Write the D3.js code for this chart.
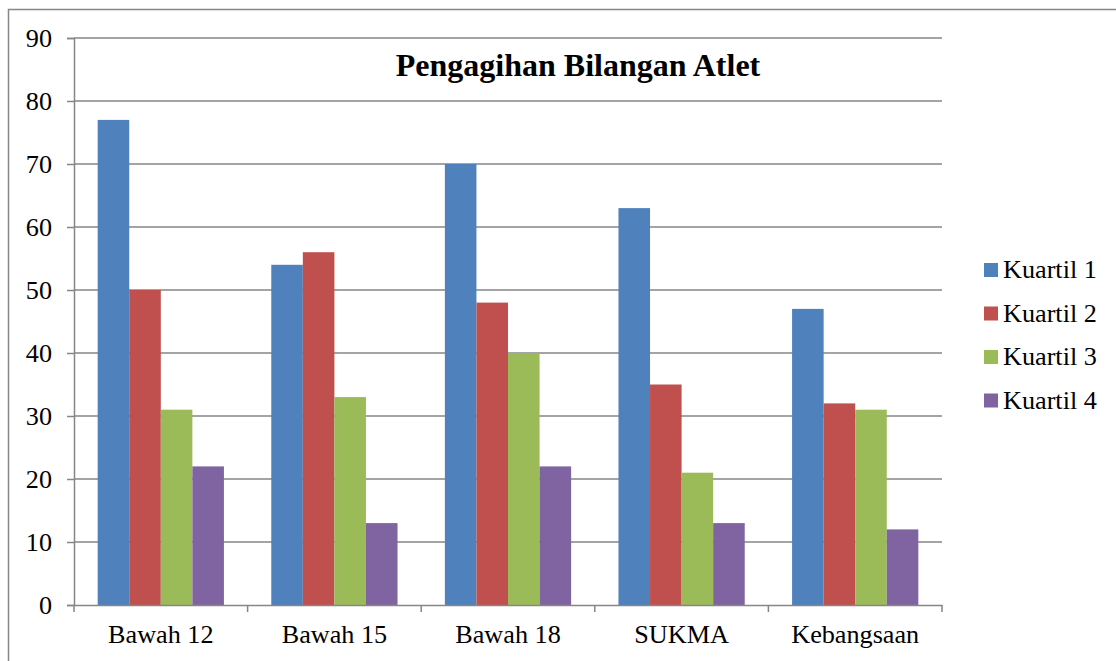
<!DOCTYPE html>
<html>
<head>
<meta charset="utf-8">
<script src="https://cdn.jsdelivr.net/npm/d3@7"></script>
<style>
  body { margin: 0; background: #fff; }
  svg text { font-family: "Liberation Serif", "Times New Roman", serif; fill: #000; }
</style>
</head>
<body>
<svg></svg>
<script>
const categories = ["Bawah 12", "Bawah 15", "Bawah 18", "SUKMA", "Kebangsaan"];
const seriesNames = ["Kuartil 1", "Kuartil 2", "Kuartil 3", "Kuartil 4"];
const kuartil1 = [77, 54, 70, 63, 47];
const kuartil2 = [50, 56, 48, 35, 32];
const kuartil3 = [31, 33, 40, 21, 31];
const kuartil4 = [22, 13, 22, 13, 12];
const yTicks = [0, 10, 20, 30, 40, 50, 60, 70, 80, 90];
const colors = ["#4F81BD", "#C0504D", "#9BBB59", "#8064A2"];

const allSeries = [kuartil1, kuartil2, kuartil3, kuartil4];

let width = 1116;
let height = 661;
let plotLeft = 74, plotRight = 942, plotTop = 38, plotBottom = 605;
let labelSize = "26.2px";

let svg = d3.select("svg").attr("width", width).attr("height", height);

// outer frame
svg.append("rect")
    .attr("x", 8.5).attr("y", 9.5)
    .attr("width", 1120).attr("height", 670)
    .attr("fill", "none").attr("stroke", "#868686").attr("stroke-width", 1.5);

let xScale = d3.scaleBand().domain(categories).range([plotLeft, plotRight]).paddingInner(0).paddingOuter(0);
let xInner = d3.scaleBand().domain(seriesNames)
    .range([0, xScale.bandwidth()])
    .paddingInner(0).paddingOuter(0.75);
let yScale = d3.scaleLinear().domain([0, 90]).range([plotBottom, plotTop]);

// gridlines
svg.append("g")
    .selectAll("line")
    .data(yTicks.slice(1))
    .enter()
    .append("line")
    .attr("x1", plotLeft).attr("x2", plotRight)
    .attr("y1", (d) => yScale(d)).attr("y2", (d) => yScale(d))
    .attr("stroke", "#868686").attr("stroke-width", 1.5);

// bars
const groups = svg.append("g")
    .selectAll("g")
    .data(categories)
    .enter()
    .append("g")
    .attr("transform", (c) => "translate(" + xScale(c) + ",0)");

groups.selectAll("rect")
    .data((c, i) => seriesNames.map((s, j) => ({ s: s, v: allSeries[j][i], color: colors[j] })))
    .enter()
    .append("rect")
    .attr("x", (d) => xInner(d.s))
    .attr("width", xInner.bandwidth())
    .attr("y", (d) => yScale(d.v))
    .attr("height", (d) => yScale(0) - yScale(d.v))
    .attr("fill", (d) => d.color);

// y axis
let yAxis = d3.axisLeft(yScale).tickValues(yTicks).tickSize(7).tickPadding(15);
let gy = svg.append("g")
    .attr("transform", "translate(" + plotLeft + ",0)")
    .call(yAxis);
gy.selectAll("line, path").attr("stroke", "#868686").attr("stroke-width", 1.5);
gy.selectAll("text").style("font-size", labelSize);

// x axis
let xAxis = d3.axisBottom(xScale).tickSize(0).tickPadding(19);
let gx = svg.append("g")
    .attr("transform", "translate(0," + plotBottom + ")")
    .call(xAxis);
gx.select("path").attr("stroke", "#868686").attr("stroke-width", 1.5);
gx.selectAll("text").style("font-size", labelSize);

// x tick marks on category boundaries
svg.append("g")
    .selectAll("line")
    .data(d3.range(categories.length + 1))
    .enter()
    .append("line")
    .attr("x1", (i) => plotLeft + i * xScale.step())
    .attr("x2", (i) => plotLeft + i * xScale.step())
    .attr("y1", plotBottom).attr("y2", plotBottom + 7)
    .attr("stroke", "#868686").attr("stroke-width", 1.5);

// title
svg.append("text")
    .attr("x", 578).attr("y", 76)
    .attr("text-anchor", "middle")
    .style("font-size", "32px")
    .style("font-weight", "bold")
    .text("Pengagihan Bilangan Atlet");

// legend
const legend = svg.append("g")
    .selectAll("g")
    .data(seriesNames)
    .enter()
    .append("g")
    .attr("transform", (d, i) => "translate(984," + (263 + i * 43.5) + ")");

legend.append("rect")
    .attr("width", 14).attr("height", 14)
    .attr("fill", (d, i) => colors[i]);

legend.append("text")
    .attr("x", 19).attr("y", 15)
    .style("font-size", labelSize)
    .text((d) => d);
</script>
</body>
</html>
